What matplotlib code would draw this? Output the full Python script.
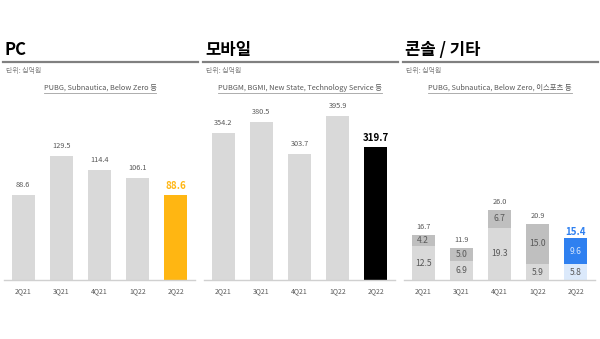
import matplotlib
matplotlib.use('Agg')
import matplotlib.pyplot as plt
from matplotlib.lines import Line2D

plt.rcParams['font.family'] = ['Noto Sans CJK KR', 'DejaVu Sans']

quarters = ['2Q21', '3Q21', '4Q21', '1Q22', '2Q22']

pc_values = [88.6, 129.5, 114.4, 106.1, 88.6]
mobile_values = [354.2, 380.5, 303.7, 395.9, 319.7]
console_bottom = [12.5, 6.9, 19.3, 5.9, 5.8]
console_top = [4.2, 5.0, 6.7, 15.0, 9.6]
console_total = [16.7, 11.9, 26.0, 20.9, 15.4]

titles = ['PC', '모바일', '콘솔 / 기타']
subtitles = ['PUBG, Subnautica, Below Zero 등',
             'PUBGM, BGMI, New State, Technology Service 등',
             'PUBG, Subnautica, Below Zero, 이스포츠 등']
unit_text = '단위: 십억원'

W, H = 600, 339
fig = plt.figure(figsize=(W / 100, H / 100), dpi=100)
fig.patch.set_facecolor('white')

GRAY_BAR = '#d9d9d9'
DARK_SEG = '#bfbfbf'
TXT = '#595959'


def fx(x):
    return x / W


def fy(y):
    return 1 - y / H


base_y = 280
ax_top = 100
# px per unit for each panel
scales = [0.96, 0.415, 2.7]
offsets = [0, 200, 400]

axes = []
for i, off in enumerate(offsets):
    ax = fig.add_axes([fx(off + 4), fy(base_y), fx(191), (base_y - ax_top) / H])
    ax.set_xlim(-0.5, 4.5)
    ax.set_ylim(0, (base_y - ax_top) / scales[i])
    for s in ['top', 'right', 'left']:
        ax.spines[s].set_visible(False)
    ax.spines['bottom'].set_color('#d0d0d0')
    ax.spines['bottom'].set_linewidth(1.0)
    ax.set_yticks([])
    ax.set_xticks(range(5))
    ax.set_xticklabels(quarters, fontsize=5, color=TXT)
    ax.tick_params(axis='x', length=0, pad=5)
    axes.append(ax)

    # headers
    fig.text(fx(off + 5), fy(50), titles[i], fontsize=12, fontweight='bold',
             color='black', va='center', ha='left')
    fig.add_artist(Line2D([fx(off + 3), fx(off + 198)], [fy(62), fy(62)],
                          color='#808080', linewidth=1.6))
    fig.text(fx(off + 6), fy(71), unit_text, fontsize=5, color='#7f7f7f',
             va='center', ha='left')
    fig.text(fx(off + 100), fy(88), subtitles[i], fontsize=5.3, color=TXT,
             va='center', ha='center')

x = range(5)
bw = 0.6

# PC
ax = axes[0]
pc_colors = [GRAY_BAR] * 4 + ['#ffb612']
ax.bar(x, pc_values, width=bw, color=pc_colors)
for i, v in enumerate(pc_values):
    if i == 4:
        ax.text(i, v + 4, f'{v:.1f}', ha='center', va='bottom', fontsize=7,
                fontweight='bold', color='#ffb612')
    else:
        ax.text(i, v + 6, f'{v:.1f}', ha='center', va='bottom', fontsize=5.3, color=TXT)

# Mobile
ax = axes[1]
mob_colors = [GRAY_BAR] * 4 + ['black']
ax.bar(x, mobile_values, width=bw, color=mob_colors)
for i, v in enumerate(mobile_values):
    if i == 4:
        ax.text(i, v + 10, f'{v:.1f}', ha='center', va='bottom', fontsize=7,
                fontweight='bold', color='black')
    else:
        ax.text(i, v + 14, f'{v:.1f}', ha='center', va='bottom', fontsize=5.3, color=TXT)

# Console / etc
ax = axes[2]
bot_colors = [GRAY_BAR] * 4 + ['#dbe9fb']
top_colors = [DARK_SEG] * 4 + ['#2f80f0']
ax.bar(x, console_bottom, width=bw, color=bot_colors)
ax.bar(x, console_top, width=bw, bottom=console_bottom, color=top_colors)
for i in x:
    b, t, tot = console_bottom[i], console_top[i], console_total[i]
    ax.text(i, b / 2, f'{b:.1f}', ha='center', va='center', fontsize=6.2, color=TXT)
    tc = '#d6e6fc' if i == 4 else TXT
    ax.text(i, b + t / 2, f'{t:.1f}', ha='center', va='center', fontsize=6.2, color=tc)
    if i == 4:
        ax.text(i, tot + 0.5, f'{tot:.1f}', ha='center', va='bottom', fontsize=7,
                fontweight='bold', color='#2f80f0')
    else:
        ax.text(i, tot + 1.5, f'{tot:.1f}', ha='center', va='bottom', fontsize=5.3, color=TXT)

# underline the subtitles
fig.canvas.draw()
renderer = fig.canvas.get_renderer()
for t in fig.texts:
    if t.get_text() in subtitles:
        bb = t.get_window_extent(renderer)
        y = bb.y0 / H - 0.5 / H
        fig.add_artist(Line2D([bb.x0 / W, bb.x1 / W], [y, y], color='#a0a0a0', linewidth=0.6))

fig.savefig('out.png', dpi=100, facecolor='white')
